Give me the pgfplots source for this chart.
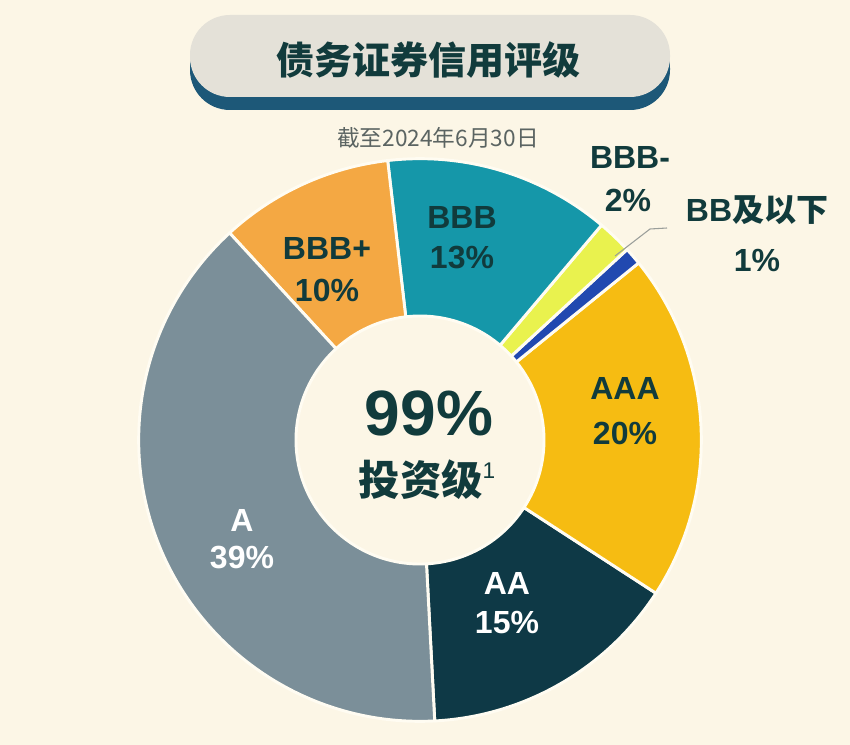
\documentclass[border=0pt]{standalone}
\usepackage{pgfplots}
\pgfplotsset{compat=1.18}
\usepackage{pgfplotstable}
\usepackage{fontspec}
\setmainfont{Liberation Sans}
\newfontfamily\cjk{Noto Sans CJK SC}

\definecolor{bg}{HTML}{FCF6E6}
\definecolor{gapcol}{HTML}{FFFCF2}
\definecolor{cA}{HTML}{7B8F99}
\definecolor{cAA}{HTML}{0E3946}
\definecolor{cAAA}{HTML}{F6BC12}
\definecolor{cBB}{HTML}{2149B0}
\definecolor{cBBBm}{HTML}{E9F24E}
\definecolor{cBBB}{HTML}{1597A9}
\definecolor{cBBBp}{HTML}{F4A843}
\definecolor{ink}{HTML}{113B3C}
\definecolor{subgray}{HTML}{5B6462}
\definecolor{boxfill}{HTML}{E4E1D8}
\definecolor{boxshadow}{HTML}{1D5878}
\definecolor{lead}{HTML}{9A9E9A}

% share of each rating, in percent, counter-clockwise from the bottom
\pgfplotstableread[col sep=comma]{
rating,share,colour
AA,15,cAA
AAA,20,cAAA
BB,1,cBB
BBB-,2,cBBBm
BBB,13,cBBB
BBB+,10,cBBBp
A,39,cA
}\ratings

\begin{document}
\begin{tikzpicture}
\begin{axis}[
    x=0.75pt, y=0.75pt,
    xmin=0, xmax=850,
    ymin=0, ymax=745,
    y dir=reverse,
    hide axis,
    clip=false,
  ]
  \fill[bg] (axis cs:0,0) rectangle (axis cs:850,745);

  % title box
  \fill[boxshadow, rounded corners=30pt] (axis cs:190,28) rectangle (axis cs:670,110);
  \fill[boxfill, rounded corners=30pt] (axis cs:190,15) rectangle (axis cs:670,97);
  \node[inner sep=0, text=ink, font=\fontsize{28.5}{30}\selectfont\cjk\bfseries]
    at (axis cs:428,60) {债务证券信用评级};
  \node[inner sep=0, text=subgray, font=\fontsize{17}{18}\selectfont\cjk]
    at (axis cs:438,138) {截至2024年6月30日};

  % donut wedges
  \xdef\angstart{-87}
  \pgfplotsforeachungrouped \i in {0,...,6}{%
    \pgfplotstablegetelem{\i}{share}\of\ratings
    \pgfmathsetmacro\angend{\angstart+3.6*\pgfplotsretval}%
    \pgfplotstablegetelem{\i}{colour}\of\ratings
    \edef\wedge{\noexpand\fill[\pgfplotsretval, draw=gapcol, line width=2.2pt, line join=round]
      ([shift={(\angstart:211pt)}]axis cs:420,440)
      arc[start angle=\angstart, end angle=\angend, radius=211pt]
      -- ([shift={(\angend:93pt)}]axis cs:420,440)
      arc[start angle=\angend, end angle=\angstart, radius=93pt] -- cycle;}%
    \wedge
    \xdef\angstart{\angend}%
  }

  % leader for BB
  \draw[lead, line width=0.8pt] (axis cs:667,228) -- (axis cs:650,229) -- (axis cs:615,256);

  % slice labels
  \tikzset{lbl/.style={inner sep=0, font=\fontsize{24}{26}\selectfont\bfseries}}
  \node[lbl, text=ink] at (axis cs:327,248) {BBB+};
  \node[lbl, text=ink] at (axis cs:327,290) {10\%};
  \node[lbl, text=ink] at (axis cs:462,217) {BBB};
  \node[lbl, text=ink] at (axis cs:462,258) {13\%};
  \node[lbl, text=ink] at (axis cs:630,157) {BBB-};
  \node[lbl, text=ink] at (axis cs:628,200) {2\%};
  \node[lbl, text=ink] at (axis cs:757,210) {BB{\cjk 及以下}};
  \node[lbl, text=ink] at (axis cs:757,260) {1\%};
  \node[lbl, text=ink] at (axis cs:625,388) {AAA};
  \node[lbl, text=ink] at (axis cs:625,433) {20\%};
  \node[lbl, text=white] at (axis cs:507,583) {AA};
  \node[lbl, text=white] at (axis cs:507,623) {15\%};
  \node[lbl, text=white] at (axis cs:242,520) {A};
  \node[lbl, text=white] at (axis cs:242,558) {39\%};

  % centre
  \node[inner sep=0, text=ink, font=\fontsize{48}{50}\selectfont\bfseries]
    at (axis cs:429,413) {99\%};
  \node[inner sep=0, text=ink, font=\fontsize{31}{33}\selectfont\cjk\bfseries]
    at (axis cs:427,480) {投资级\raisebox{0.42em}{\fontsize{17}{18}\selectfont\rmfamily\mdseries 1}};
\end{axis}
\end{tikzpicture}
\end{document}
